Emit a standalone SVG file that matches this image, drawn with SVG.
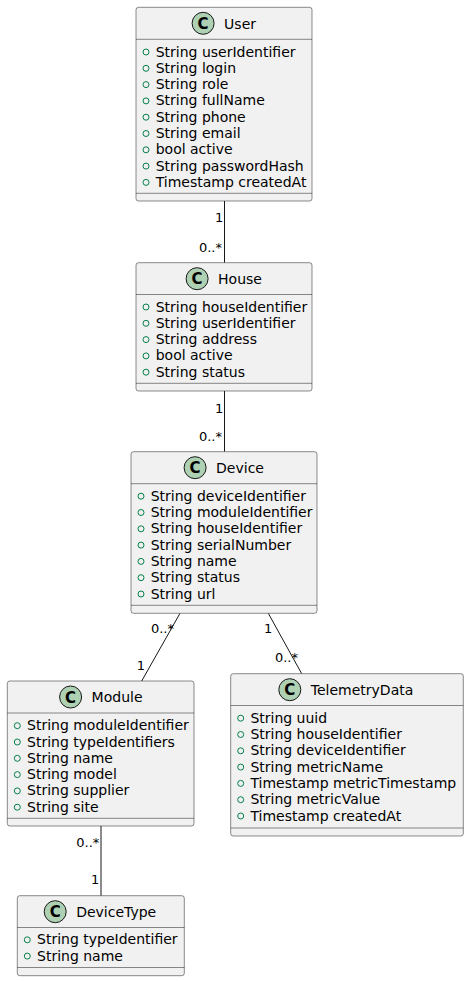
<svg xmlns="http://www.w3.org/2000/svg" width="469" height="981" viewBox="0 0 469 981">
<style>
.box{fill:#F1F1F1;stroke:#181818;stroke-width:0.5}
.div{stroke:#181818;stroke-width:0.5}
.ci{fill:#ADD1B2;stroke:#181818;stroke-width:1}
.cl{font-family:"DejaVu Sans",sans-serif;font-size:15px;font-weight:bold;fill:#000;text-anchor:middle}
.nm{font-family:"DejaVu Sans",sans-serif;font-size:14px;fill:#000}
.at{font-family:"DejaVu Sans",sans-serif;font-size:14px;fill:#000}
.vis{fill:none;stroke:#038048;stroke-width:1}
.ln{stroke:#181818;stroke-width:1;fill:none}
.lb{font-family:"DejaVu Sans",sans-serif;font-size:13px;fill:#000;text-anchor:end}
</style>
<rect width="469" height="981" fill="#FFFFFF"/>
<g id="connectors">
<line class="ln" x1="224.5" y1="201" x2="224.5" y2="262.7"/>
<text class="lb" x="223.3" y="222.3">1</text>
<text class="lb" x="222" y="251.7">0..*</text>
<line class="ln" x1="224.5" y1="391" x2="224.5" y2="451.7"/>
<text class="lb" x="223.3" y="412.7">1</text>
<text class="lb" x="222" y="440.5">0..*</text>
<line class="ln" x1="180" y1="613.3" x2="141.7" y2="681"/>
<text class="lb" x="174" y="633.3">0..*</text>
<text class="lb" x="145" y="670">1</text>
<line class="ln" x1="268.3" y1="613.3" x2="301.7" y2="673.7"/>
<text class="lb" x="272.3" y="633.3">1</text>
<text class="lb" x="298" y="662.3">0..*</text>
<line class="ln" x1="101" y1="826" x2="101" y2="895.7"/>
<text class="lb" x="99.3" y="846.7">0..*</text>
<text class="lb" x="99.3" y="884">1</text>
</g>
<g id="User">
<rect class="box" x="136" y="7.3" width="176" height="193.7" rx="2.5"/>
<circle class="ci" cx="203.1" cy="23.3" r="11"/>
<text class="cl" x="203.1" y="28.8">C</text>
<text class="nm" x="224.1" y="28.5">User</text>
<line class="div" x1="136" y1="39.3" x2="312" y2="39.3"/>
<circle class="vis" cx="146" cy="52" r="3"/><text class="at" x="155.7" y="56.5">String userIdentifier</text>
<circle class="vis" cx="146" cy="68.3" r="3"/><text class="at" x="155.7" y="72.8">String login</text>
<circle class="vis" cx="146" cy="84.6" r="3"/><text class="at" x="155.7" y="89.1">String role</text>
<circle class="vis" cx="146" cy="100.9" r="3"/><text class="at" x="155.7" y="105.4">String fullName</text>
<circle class="vis" cx="146" cy="117.2" r="3"/><text class="at" x="155.7" y="121.7">String phone</text>
<circle class="vis" cx="146" cy="133.5" r="3"/><text class="at" x="155.7" y="138">String email</text>
<circle class="vis" cx="146" cy="149.8" r="3"/><text class="at" x="155.7" y="154.3">bool active</text>
<circle class="vis" cx="146" cy="166.1" r="3"/><text class="at" x="155.7" y="170.6">String passwordHash</text>
<circle class="vis" cx="146" cy="182.4" r="3"/><text class="at" x="155.7" y="186.9">Timestamp createdAt</text>
<line class="div" x1="136" y1="193.3" x2="312" y2="193.3"/>
</g>
<g id="House">
<rect class="box" x="136" y="262.7" width="176" height="128.3" rx="2.5"/>
<circle class="ci" cx="197.1" cy="278.7" r="11"/>
<text class="cl" x="197.1" y="284.2">C</text>
<text class="nm" x="218.1" y="283.7">House</text>
<line class="div" x1="136" y1="294.5" x2="312" y2="294.5"/>
<circle class="vis" cx="146" cy="307" r="3"/><text class="at" x="155.7" y="311.5">String houseIdentifier</text>
<circle class="vis" cx="146" cy="323.3" r="3"/><text class="at" x="155.7" y="327.8">String userIdentifier</text>
<circle class="vis" cx="146" cy="339.6" r="3"/><text class="at" x="155.7" y="344.1">String address</text>
<circle class="vis" cx="146" cy="355.9" r="3"/><text class="at" x="155.7" y="360.4">bool active</text>
<circle class="vis" cx="146" cy="372.2" r="3"/><text class="at" x="155.7" y="376.7">String status</text>
<line class="div" x1="136" y1="383.3" x2="312" y2="383.3"/>
</g>
<g id="Device">
<rect class="box" x="131" y="451.7" width="186" height="161.6" rx="2.5"/>
<circle class="ci" cx="195.1" cy="467.7" r="11"/>
<text class="cl" x="195.1" y="473.2">C</text>
<text class="nm" x="216.1" y="472.7">Device</text>
<line class="div" x1="131" y1="483.7" x2="317" y2="483.7"/>
<circle class="vis" cx="141" cy="496.2" r="3"/><text class="at" x="150.7" y="500.7">String deviceIdentifier</text>
<circle class="vis" cx="141" cy="512.5" r="3"/><text class="at" x="150.7" y="517">String moduleIdentifier</text>
<circle class="vis" cx="141" cy="528.8" r="3"/><text class="at" x="150.7" y="533.3">String houseIdentifier</text>
<circle class="vis" cx="141" cy="545.1" r="3"/><text class="at" x="150.7" y="549.6">String serialNumber</text>
<circle class="vis" cx="141" cy="561.4" r="3"/><text class="at" x="150.7" y="565.9">String name</text>
<circle class="vis" cx="141" cy="577.7" r="3"/><text class="at" x="150.7" y="582.2">String status</text>
<circle class="vis" cx="141" cy="594" r="3"/><text class="at" x="150.7" y="598.5">String url</text>
<line class="div" x1="131" y1="605.3" x2="317" y2="605.3"/>
</g>
<g id="Module">
<rect class="box" x="7.3" y="681" width="186.7" height="145" rx="2.5"/>
<circle class="ci" cx="70.6" cy="697" r="11"/>
<text class="cl" x="70.6" y="702.5">C</text>
<text class="nm" x="91.6" y="702">Module</text>
<line class="div" x1="7.3" y1="713" x2="194" y2="713"/>
<circle class="vis" cx="17.3" cy="725.7" r="3"/><text class="at" x="27" y="730.2">String moduleIdentifier</text>
<circle class="vis" cx="17.3" cy="742" r="3"/><text class="at" x="27" y="746.5">String typeIdentifiers</text>
<circle class="vis" cx="17.3" cy="758.3" r="3"/><text class="at" x="27" y="762.8">String name</text>
<circle class="vis" cx="17.3" cy="774.6" r="3"/><text class="at" x="27" y="779.1">String model</text>
<circle class="vis" cx="17.3" cy="790.9" r="3"/><text class="at" x="27" y="795.4">String supplier</text>
<circle class="vis" cx="17.3" cy="807.2" r="3"/><text class="at" x="27" y="811.7">String site</text>
<line class="div" x1="7.3" y1="818.3" x2="194" y2="818.3"/>
</g>
<g id="TelemetryData">
<rect class="box" x="230.7" y="673.7" width="232.6" height="162.3" rx="2.5"/>
<circle class="ci" cx="289.8" cy="689.7" r="11"/>
<text class="cl" x="289.8" y="695.2">C</text>
<text class="nm" x="310.8" y="694.7">TelemetryData</text>
<line class="div" x1="230.7" y1="705.5" x2="463.3" y2="705.5"/>
<circle class="vis" cx="240.7" cy="718.2" r="3"/><text class="at" x="250.4" y="722.7">String uuid</text>
<circle class="vis" cx="240.7" cy="734.5" r="3"/><text class="at" x="250.4" y="739">String houseIdentifier</text>
<circle class="vis" cx="240.7" cy="750.8" r="3"/><text class="at" x="250.4" y="755.3">String deviceIdentifier</text>
<circle class="vis" cx="240.7" cy="767.1" r="3"/><text class="at" x="250.4" y="771.6">String metricName</text>
<circle class="vis" cx="240.7" cy="783.4" r="3"/><text class="at" x="250.4" y="787.9">Timestamp metricTimestamp</text>
<circle class="vis" cx="240.7" cy="799.7" r="3"/><text class="at" x="250.4" y="804.2">String metricValue</text>
<circle class="vis" cx="240.7" cy="816" r="3"/><text class="at" x="250.4" y="820.5">Timestamp createdAt</text>
<line class="div" x1="230.7" y1="828" x2="463.3" y2="828"/>
</g>
<g id="DeviceType">
<rect class="box" x="17.3" y="895.7" width="167" height="80" rx="2.5"/>
<circle class="ci" cx="55.2" cy="911.7" r="11"/>
<text class="cl" x="55.2" y="917.2">C</text>
<text class="nm" x="76.2" y="916.7">DeviceType</text>
<line class="div" x1="17.3" y1="927.5" x2="184.3" y2="927.5"/>
<circle class="vis" cx="27.3" cy="939.8" r="3"/><text class="at" x="37" y="944.3">String typeIdentifier</text>
<circle class="vis" cx="27.3" cy="956.1" r="3"/><text class="at" x="37" y="960.6">String name</text>
<line class="div" x1="17.3" y1="967.5" x2="184.3" y2="967.5"/>
</g>
</svg>
